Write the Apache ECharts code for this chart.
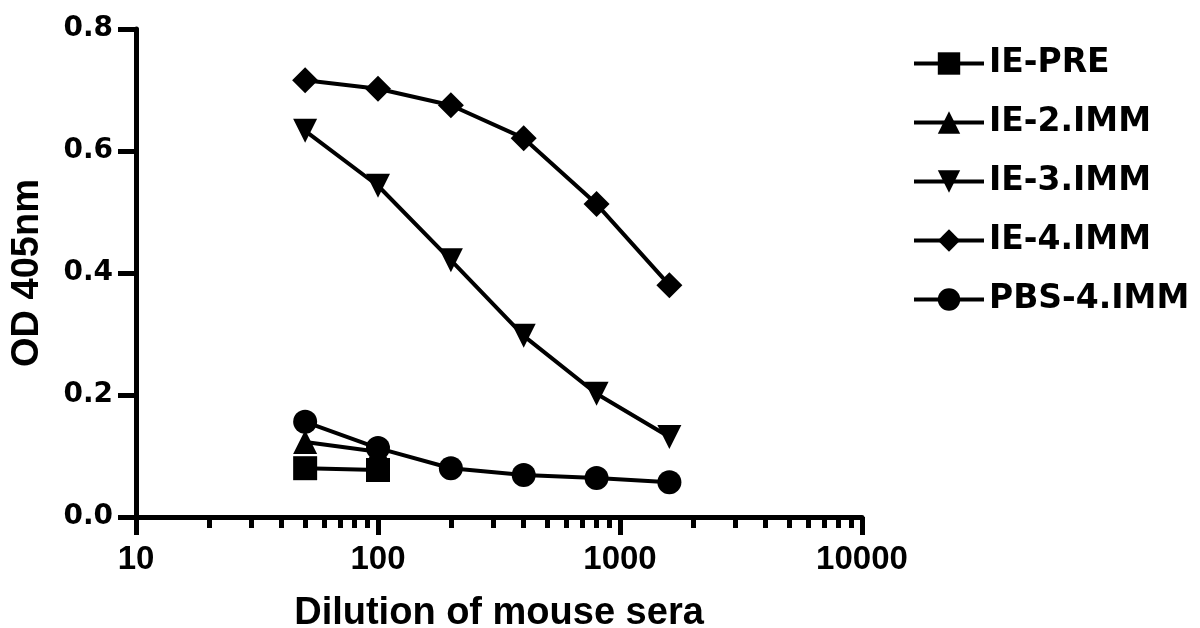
<!DOCTYPE html>
<html>
<head>
<meta charset="utf-8">
<script src="https://cdn.jsdelivr.net/npm/echarts@6/dist/echarts.min.js"></script>
<style>
  html, body { margin: 0; padding: 0; background: #fff; }
  #chart { width: 1200px; height: 628px; }
</style>
</head>
<body>
<div id="chart"></div>
<script>
// dilution of mouse sera
const dilutions = [50, 100, 200, 400, 800, 1600];
const iePre = [0.080, 0.077];
const ie2 = [0.123, 0.107];
const ie3 = [0.633, 0.543, 0.421, 0.297, 0.202, 0.131];
const ie4 = [0.716, 0.702, 0.675, 0.621, 0.513, 0.380];
const pbs4 = [0.156, 0.113, 0.080, 0.069, 0.064, 0.057];

const majorTicks = [10, 100, 1000, 10000];
const minorTicks = [20, 30, 40, 50, 60, 70, 80, 90, 200, 300, 400, 500, 600, 700, 800, 900,
                    2000, 3000, 4000, 5000, 6000, 7000, 8000, 9000];

const pair = (vals) => vals.map((v, i) => [dilutions[i], v]);

const chart = echarts.init(document.getElementById('chart'));
const axisFont = 'Liberation Sans, Arial, sans-serif';
const base = {
    type: 'line',
    symbolSize: 24,
    lineStyle: { color: '#000', width: 4 },
    itemStyle: { color: '#000' },
    emphasis: { disabled: true }
};

chart.setOption({
    animation: false,
    grid: { left: 136, right: 338, top: 29, bottom: 111, outerBoundsMode: 'none', containLabel: false },
    legend: {
        orient: 'vertical',
        left: 907,
        top: 42,
        itemWidth: 70,
        itemHeight: 28,
        itemGap: 26,
        lineStyle: { width: 4 },
        textStyle: {
            color: '#000',
            fontFamily: 'DejaVu Sans',
            fontWeight: 'bold',
            fontSize: 33,
            lineHeight: 32,
            padding: [0, 0, 0, 0]
        }
    },
    xAxis: [{
        type: 'log',
        min: 10,
        max: 10000,
        name: 'Dilution of mouse sera',
        nameLocation: 'middle',
        nameGap: 78,
        nameMoveOverlap: false,
        nameTextStyle: { color: '#000', fontFamily: axisFont, fontWeight: 'bold', fontSize: 38 },
        axisLine: { lineStyle: { color: '#000', width: 5 } },
        axisTick: { customValues: majorTicks, length: 18, lineStyle: { color: '#000', width: 5 } },
        axisLabel: {
            customValues: majorTicks,
            color: '#000', fontFamily: axisFont, fontWeight: 'bold', fontSize: 33, margin: 26,
            formatter: (v) => String(v)
        },
        splitLine: { show: false }
    }, {
        type: 'log',
        min: 10,
        max: 10000,
        position: 'bottom',
        axisLine: { show: false },
        axisTick: { customValues: minorTicks, length: 11, lineStyle: { color: '#000', width: 5 } },
        axisLabel: { show: false },
        splitLine: { show: false }
    }],
    yAxis: {
        type: 'value',
        min: 0,
        max: 0.8,
        interval: 0.2,
        name: 'OD 405nm',
        nameLocation: 'middle',
        nameGap: 89,
        nameMoveOverlap: false,
        nameTextStyle: { color: '#000', fontFamily: axisFont, fontWeight: 'bold', fontSize: 38 },
        axisLine: { show: true, lineStyle: { color: '#000', width: 5 } },
        axisTick: { show: true, length: 18, lineStyle: { color: '#000', width: 5 } },
        axisLabel: {
            color: '#000', fontFamily: 'DejaVu Sans', fontWeight: 'bold', fontSize: 28, margin: 23,
            formatter: (v) => v.toFixed(1)
        },
        splitLine: { show: false }
    },
    series: [
        { ...base, name: 'IE-PRE', symbol: 'rect', data: pair(iePre) },
        { ...base, name: 'IE-2.IMM', symbol: 'triangle', data: pair(ie2) },
        { ...base, name: 'IE-3.IMM', symbol: 'triangle', symbolRotate: 180, data: pair(ie3) },
        { ...base, name: 'IE-4.IMM', symbol: 'diamond', symbolSize: 26, data: pair(ie4) },
        { ...base, name: 'PBS-4.IMM', symbol: 'circle', data: pair(pbs4) }
    ]
});
</script>
</body>
</html>
